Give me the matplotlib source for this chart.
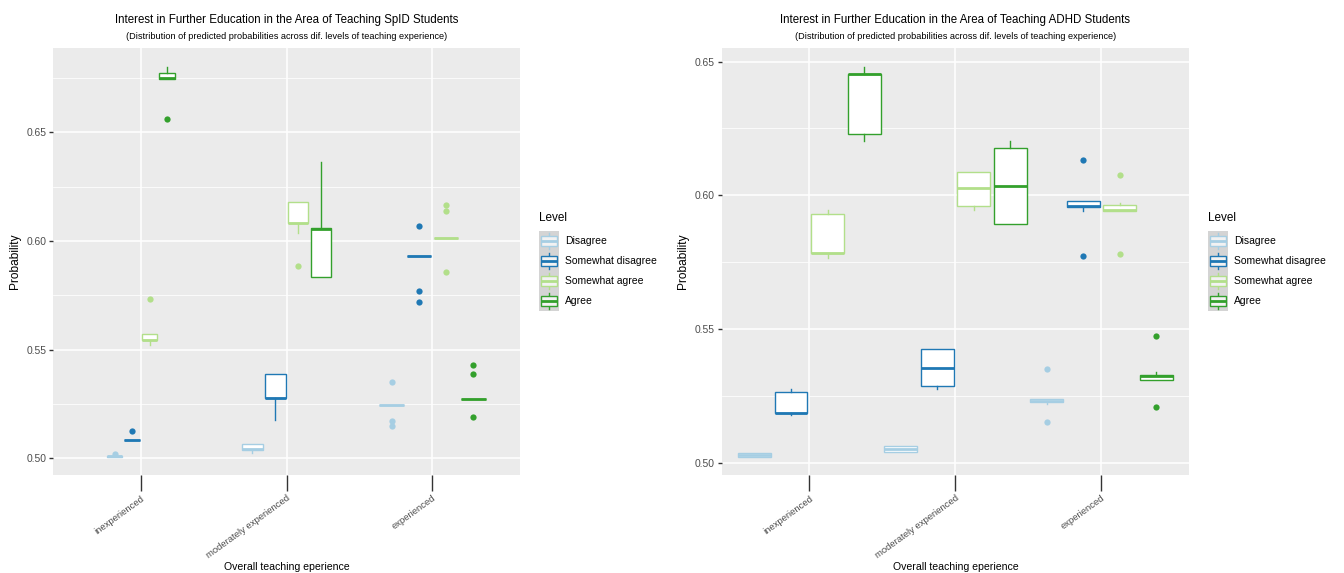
import matplotlib
matplotlib.use("Agg")
import matplotlib.pyplot as plt
from matplotlib.patches import Patch, Rectangle
from matplotlib.lines import Line2D
from matplotlib.legend_handler import HandlerBase

plt.rcParams['font.family'] = ['Liberation Sans', 'DejaVu Sans']

groups = ["inexperienced", "moderately experienced", "experienced"]
levels = ["Disagree", "Somewhat disagree", "Somewhat agree", "Agree"]
colors = ["#A6CEE3", "#1F78B4", "#B2DF8A", "#33A02C"]

# box summaries: rows follow `levels`, columns follow `groups`
spld_lo = [[0.5005, 0.5026, 0.5247],
           [0.5082, 0.5177, 0.5932],
           [0.5523, 0.6039, 0.6015],
           [0.6747, 0.5834, 0.5273]]
spld_q1 = [[0.5007, 0.5040, 0.5247],
           [0.5083, 0.5276, 0.5932],
           [0.5543, 0.6081, 0.6015],
           [0.6747, 0.5834, 0.5273]]
spld_med = [[0.5009, 0.5043, 0.5247],
            [0.5084, 0.5279, 0.5932],
            [0.5545, 0.6084, 0.6015],
            [0.6750, 0.6055, 0.5273]]
spld_q3 = [[0.5011, 0.5064, 0.5247],
           [0.5086, 0.5387, 0.5932],
           [0.5570, 0.6179, 0.6015],
           [0.6776, 0.6058, 0.5273]]
spld_hi = [[0.5013, 0.5064, 0.5247],
           [0.5086, 0.5387, 0.5932],
           [0.5570, 0.6179, 0.6015],
           [0.6801, 0.6362, 0.5273]]
spld_out = [[[0.5021], [], [0.5350, 0.5173, 0.5150]],
            [[0.5126], [], [0.6068, 0.5771, 0.5720]],
            [[0.5732], [0.5886], [0.6165, 0.6139, 0.5858]],
            [[0.6561], [], [0.5428, 0.5387, 0.5190]]]

adhd_lo = [[0.5022, 0.5039, 0.5220],
           [0.5178, 0.5275, 0.5943],
           [0.5765, 0.5946, 0.5943],
           [0.6202, 0.5894, 0.5311]]
adhd_q1 = [[0.5022, 0.5039, 0.5226],
           [0.5185, 0.5285, 0.5957],
           [0.5784, 0.5961, 0.5943],
           [0.6228, 0.5894, 0.5311]]
adhd_med = [[0.5030, 0.5052, 0.5230],
            [0.5187, 0.5354, 0.5960],
            [0.5786, 0.6028, 0.5946],
            [0.6454, 0.6036, 0.5324]]
adhd_q3 = [[0.5037, 0.5064, 0.5238],
           [0.5266, 0.5426, 0.5978],
           [0.5931, 0.6086, 0.5962],
           [0.6455, 0.6177, 0.5328]]
adhd_hi = [[0.5037, 0.5064, 0.5238],
           [0.5275, 0.5426, 0.5978],
           [0.5946, 0.6086, 0.5973],
           [0.6480, 0.6204, 0.5338]]
adhd_out = [[[], [], [0.5352, 0.5151]],
            [[], [], [0.6131, 0.5773]],
            [[], [], [0.6077, 0.5780]],
            [[], [], [0.5472, 0.5210]]]


class BoxKey(HandlerBase):
    # small boxplot glyph on a grey key background
    def create_artists(self, legend, orig_handle, xdescent, ydescent,
                       width, height, fontsize, trans):
        col = orig_handle.get_edgecolor()
        x0, y0 = -xdescent, -ydescent
        cx = x0 + width / 2
        bg = Rectangle((x0, y0), width, height, facecolor='#D4D4D4',
                       edgecolor='none', transform=trans)
        whisk = Line2D([cx, cx], [y0 + 0.08 * height, y0 + 0.92 * height],
                       color=col, lw=1.0, transform=trans)
        box = Rectangle((x0 + 0.08 * width, y0 + 0.27 * height), 0.84 * width,
                        0.46 * height, facecolor='#F2F2F2', edgecolor=col,
                        lw=1.0, transform=trans)
        mid = Line2D([x0 + 0.08 * width, x0 + 0.92 * width], [y0 + height / 2] * 2,
                     color=col, lw=2.0, transform=trans, solid_capstyle='butt')
        return [bg, whisk, box, mid]


def draw_panel(ax, lo, q1, med, q3, hi, out, slots, ylim, minor, title, leg_x):
    ax.set_facecolor('#EBEBEB')
    for s in ax.spines.values():
        s.set_visible(False)
    ax.set_axisbelow(True)

    for i, col in enumerate(colors):
        stats, pos, wid = [], [], []
        for g in range(len(groups)):
            stats.append(dict(whislo=lo[i][g], q1=q1[i][g], med=med[i][g],
                              q3=q3[i][g], whishi=hi[i][g], fliers=out[i][g]))
            pos.append(g + (i - 1.5) * slots[g])
            wid.append(0.9 * slots[g])
        ax.bxp(stats, positions=pos, widths=wid, patch_artist=True,
               showcaps=False, manage_ticks=False,
               boxprops=dict(facecolor='white', edgecolor=col, linewidth=1.0),
               medianprops=dict(color=col, linewidth=2.0, solid_capstyle='butt'),
               whiskerprops=dict(color=col, linewidth=1.0),
               flierprops=dict(marker='o', markerfacecolor=col,
                               markeredgecolor='none', markersize=4.5))

    ax.set_yticks([0.50, 0.55, 0.60, 0.65])
    ax.set_yticklabels(["0.50", "0.55", "0.60", "0.65"])
    ax.set_yticks(minor, minor=True)
    ax.set_xlim(-0.6, 2.6)
    ax.set_ylim(*ylim)
    ax.grid(True, which='major', color='white', linewidth=1.1)
    ax.grid(True, which='minor', axis='y', color='white', linewidth=0.55)
    ax.set_xticks(range(len(groups)))
    ax.set_xticklabels(groups, rotation=36, ha='right', va='top',
                       rotation_mode='anchor', fontsize=6.8, color='#4D4D4D')
    ax.tick_params(axis='x', length=11.5, width=1.0, color='#333333', pad=2)
    ax.tick_params(axis='y', which='major', length=2.75, width=1.0,
                   color='#333333', labelsize=7.4, labelcolor='#4D4D4D', pad=2.2)
    ax.tick_params(axis='y', which='minor', length=0)

    ax.text(0.5, 1.066, title, transform=ax.transAxes, ha='center',
            va='center', fontsize=8.3)
    ax.text(0.5, 1.027, "(Distribution of predicted probabilities across dif. "
            "levels of teaching experience)", transform=ax.transAxes,
            ha='center', va='center', fontsize=6.6)
    ax.text(-0.082, 0.5, "Probability", transform=ax.transAxes, rotation=90,
            ha='center', va='center', fontsize=8.6)
    ax.text(0.5, -0.215, "Overall teaching eperience", transform=ax.transAxes,
            ha='center', va='center', fontsize=7.6)

    fig = ax.figure
    fig.text(leg_x, 1 - 218 / 573, "Level", ha='left', va='center', fontsize=8.5)
    handles = [Patch(edgecolor=c, facecolor='white') for c in colors]
    ax.legend(handles, levels, handler_map={Patch: BoxKey()},
              loc='upper left', bbox_to_anchor=(leg_x, 1 - 231 / 573),
              bbox_transform=fig.transFigure, frameon=False,
              borderpad=0, borderaxespad=0, handlelength=1.9,
              handleheight=2.58, labelspacing=0, handletextpad=0.6,
              fontsize=7.5)


fig = plt.figure(figsize=(13.44, 5.73), dpi=100)
ax1 = fig.add_axes([53.3 / 1344, 1 - 475 / 573, 466.7 / 1344, 427 / 573])
ax2 = fig.add_axes([721.7 / 1344, 1 - 475 / 573, 467.3 / 1344, 427 / 573])

draw_panel(ax1, spld_lo, spld_q1, spld_med, spld_q3, spld_hi, spld_out,
           [0.12, 0.157, 0.187], (0.4923, 0.6889),
           [0.525, 0.575, 0.625, 0.675],
           "Interest in Further Education in the Area of Teaching SpID Students",
           539 / 1344)
draw_panel(ax2, adhd_lo, adhd_q1, adhd_med, adhd_q3, adhd_hi, adhd_out,
           [0.25, 0.25, 0.25], (0.4954, 0.6551),
           [0.525, 0.575, 0.625],
           "Interest in Further Education in the Area of Teaching ADHD Students",
           1208 / 1344)

fig.savefig("out.png", dpi=100)
